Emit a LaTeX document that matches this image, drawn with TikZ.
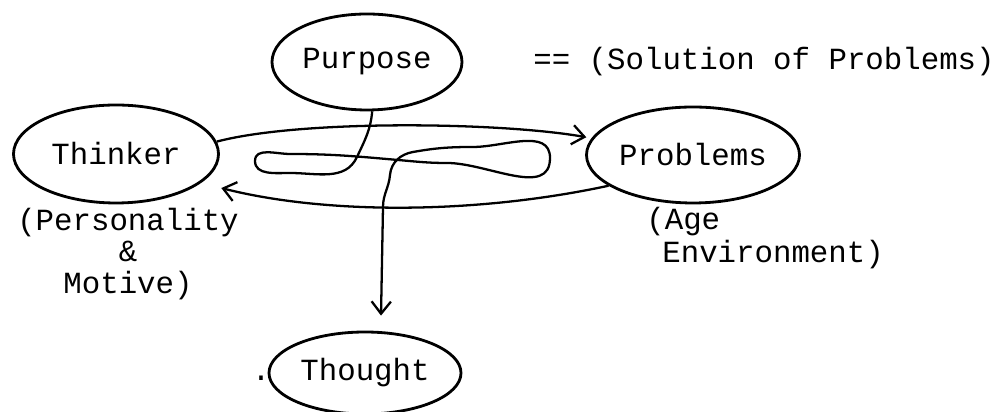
\documentclass[tikz,border=0pt]{standalone}
\usepackage{fontspec}
\usepackage{tikz}
\usetikzlibrary{positioning,calc}
\usetikzlibrary{arrows.meta,shapes.geometric}
\newfontfamily\typefont{Liberation Mono}
\tikzset{
  blob/.style={ellipse,draw=black,line width=1.6pt,inner sep=0pt,
    font=\typefont\fontsize{17.5}{18}\selectfont},
  link/.style={draw=black,line width=1.3pt,
    -{Straight Barb[length=7pt,width=11pt,line width=1.3pt]}},
  lbl/.style={inner sep=0pt,font=\typefont\fontsize{17.5}{18}\selectfont},
}

\begin{document}
\begin{tikzpicture}
\useasboundingbox (0,0) rectangle (20.06,8.24);
\node[blob,minimum width=3.8cm,minimum height=1.92cm] (purpose) at (7.34,7.0) {Purpose};
\node[blob,minimum width=4.1cm,minimum height=1.96cm] (thinker) at (2.32,5.16) {Thinker};
\node[blob,minimum width=4.26cm,minimum height=1.92cm] (problems) at (13.86,5.14) {Problems};
\node[blob,minimum width=3.84cm,minimum height=1.64cm] (thought) at (7.3,0.78) {Thought};
\node[lbl,anchor=west] (solution) at (10.66,7.0) {== (Solution of Problems)};
\node[lbl,align=center] (motive) at (2.56,3.16) {(Personality\\\&\\Motive)};
\node[lbl,anchor=west] (age) at (12.92,3.80) {(Age};
\node[lbl,anchor=west] (env) at (13.24,3.14) {Environment)};
\node[lbl,anchor=base] (dot) at (5.22,0.62) {.};
\coordinate (tip) at ($(thought.north)+(0.32,0.30)$);
\draw[link] (thinker.7) .. controls (6,5.85) and (10,5.8) .. ([shift={(-0.12,0)}]problems.170);
\draw[link] (problems.200) .. controls (9.5,3.95) and (6.5,3.95) .. ([shift={(0.38,-0.12)}]thinker.-18);
\draw[link] (purpose.-84) to[out=-95,in=65] (7.14,5.10)
  to[out=-115,in=0] (5.80,4.78)
  to[out=180,in=-90] (5.10,5.02)
  to[out=90,in=180] (5.80,5.16)
  to[out=0,in=175] (7.96,5.04)
  to[out=-5,in=180] (8.94,4.98)
  to[out=0,in=-90] (11.0,5.08)
  to[out=90,in=0] (9.46,5.30)
  to[out=180,in=10] (8.26,5.20)
  to[out=-170,in=85] (7.80,4.74)
  to[out=-95,in=90] (7.66,4.10)
  -- (tip);
\end{tikzpicture}
\end{document}
